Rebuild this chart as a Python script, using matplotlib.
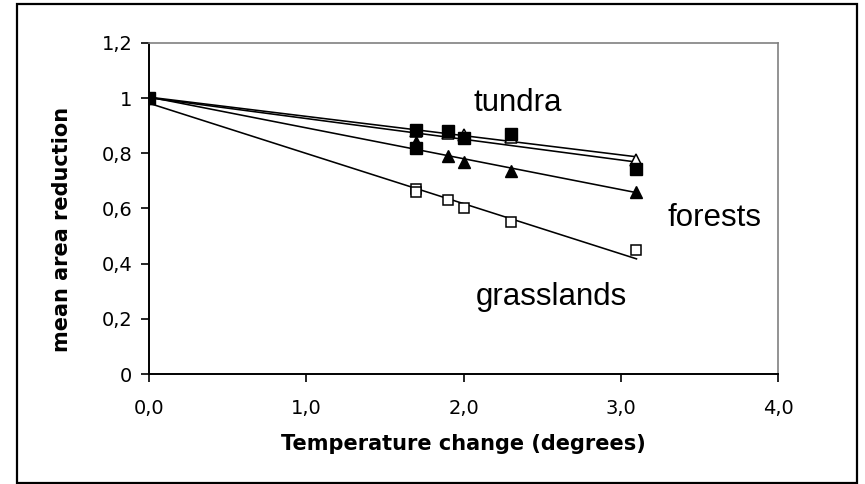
import numpy as np
import matplotlib
matplotlib.use("Agg")
import matplotlib.pyplot as plt
from matplotlib.patches import Rectangle

# ---- data ----
sq_filled_x = [0.0, 1.7, 1.7, 1.9, 2.0, 2.3, 3.1]
sq_filled_y = [1.0, 0.885, 0.82, 0.88, 0.855, 0.87, 0.745]

tri_open_x = [0.0, 1.7, 1.9, 2.0, 2.3, 3.1]
tri_open_y = [1.0, 0.88, 0.875, 0.865, 0.86, 0.775]

tri_filled_x = [0.0, 1.7, 1.9, 2.0, 2.3, 3.1]
tri_filled_y = [1.0, 0.84, 0.79, 0.77, 0.735, 0.66]

sq_open_x = [0.0, 1.7, 1.7, 1.9, 2.0, 2.3, 3.1]
sq_open_y = [1.0, 0.67, 0.66, 0.63, 0.60, 0.55, 0.45]

x_ticks = [0.0, 1.0, 2.0, 3.0, 4.0]
x_tick_labels = ["0,0", "1,0", "2,0", "3,0", "4,0"]
y_ticks = [0.0, 0.2, 0.4, 0.6, 0.8, 1.0, 1.2]
y_tick_labels = ["0", "0,2", "0,4", "0,6", "0,8", "1", "1,2"]

labels = ["tundra", "forests", "grasslands"]
label_pos = [(2.064, 0.953), (3.30, 0.536), (2.076, 0.25)]

x_label = "Temperature change (degrees)"
y_label = "mean area reduction"

W, H = 865, 484
fig = plt.figure(figsize=(W / 100, H / 100), dpi=100)
ax = fig.add_axes([149 / W, 1 - 374 / H, (778 - 149) / W, (374 - 43) / H])

# outer frame
fig.patches.append(Rectangle((17 / W, 1 / H), (857 - 17) / W, (480 - 1) / H,
                             transform=fig.transFigure, fill=False,
                             edgecolor="black", linewidth=1.6, zorder=0))

series = [
    (sq_open_x, sq_open_y, dict(marker="s", ms=7.0, mfc="white", mec="black", mew=1.1)),
    (tri_filled_x, tri_filled_y, dict(marker="^", ms=9.0, mfc="black", mec="black", mew=1.0)),
    (tri_open_x, tri_open_y, dict(marker="^", ms=9.0, mfc="white", mec="black", mew=1.1)),
    (sq_filled_x, sq_filled_y, dict(marker="s", ms=8.5, mfc="black", mec="black", mew=1.0)),
]

z = 3
for xs, ys, st in series:
    xs = np.asarray(xs)
    ys = np.asarray(ys)
    k, b = np.polyfit(xs, ys, 1)
    xl = np.array([xs.min(), xs.max()])
    ax.plot(xl, k * xl + b, color="black", lw=1.15, zorder=2)
    ax.plot(xs, ys, linestyle="none", zorder=z, **st)
    z += 1

ax.set_xlim(0, 4)
ax.set_ylim(0, 1.2)
ax.set_xticks(x_ticks)
ax.set_xticklabels(x_tick_labels)
ax.set_yticks(y_ticks)
ax.set_yticklabels(y_tick_labels)

for lab in ax.get_xticklabels() + ax.get_yticklabels():
    lab.set_fontfamily("DejaVu Sans")
    lab.set_fontsize(14)

ax.tick_params(axis="both", direction="out", length=6, width=1.2, color="black")
ax.tick_params(axis="x", pad=12)
ax.tick_params(axis="y", pad=6)

ax.spines["left"].set_color("black")
ax.spines["bottom"].set_color("black")
ax.spines["left"].set_linewidth(1.4)
ax.spines["bottom"].set_linewidth(1.4)
ax.spines["top"].set_color("#808080")
ax.spines["right"].set_color("#808080")
ax.spines["top"].set_linewidth(1.2)
ax.spines["right"].set_linewidth(1.2)

fig.text(0.5 * (149 + 778) / W, 1 - 444 / H, x_label, ha="center", va="center",
         family="DejaVu Sans", fontweight="bold", fontsize=15)
fig.text(62 / W, 1 - 229 / H, y_label, ha="center", va="center", rotation=90,
         family="DejaVu Sans", fontweight="bold", fontsize=15)

for txt, (tx, ty) in zip(labels, label_pos):
    ax.text(tx, ty, txt, ha="left", va="baseline", family="Liberation Sans",
            fontsize=22.5, clip_on=False)

fig.savefig("out.png", dpi=100)
